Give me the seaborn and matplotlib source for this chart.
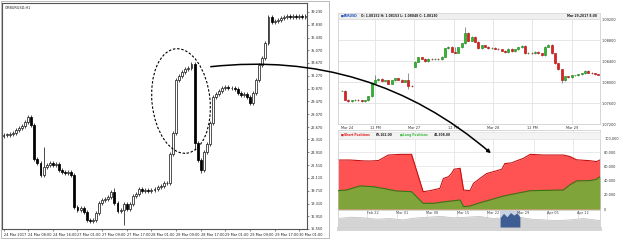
import numpy as np
import pandas as pd
import matplotlib
matplotlib.use("Agg")
import matplotlib.pyplot as plt
import seaborn as sns
from matplotlib.patches import Ellipse, FancyArrowPatch, Rectangle

# ---------------- data: left H1 chart ----------------
cmb_title = "CMBURUSD,H1"
cmb_open_first = 25.70
cmb_close = [25.80, 25.80, 25.87, 25.98, 26.35, 26.53, 26.78, 27.26, 27.73, 26.89,
             23.15, 22.71, 21.44, 22.35, 22.53, 22.71, 22.53, 22.64, 21.98, 21.80,
             21.62, 21.80, 21.44, 17.98, 17.61, 17.80, 17.43, 16.52, 16.45, 16.52,
             17.25, 18.34, 18.71, 18.78, 19.07, 19.62, 18.34, 17.54, 17.61, 18.27,
             17.69, 18.27, 19.14, 19.36, 19.87, 19.72, 19.80, 19.72, 19.80, 19.94,
             20.09, 20.23, 20.53, 20.60, 23.73, 25.98, 31.81, 32.24, 32.72, 32.97,
             33.08, 33.55, 24.89, 23.07, 21.98, 23.98, 24.82, 27.08, 29.99, 30.28,
             30.64, 30.90, 31.01, 30.90, 30.97, 30.79, 30.35, 30.17, 30.24, 29.99,
             29.33, 30.35, 31.81, 33.44, 34.17, 35.81, 38.72, 38.17, 38.25, 38.36,
             38.54, 38.72, 38.83, 38.72, 38.79, 38.72, 38.79, 38.72, 38.79]
cmb_high_override = {13: 24.53, 36: 19.98, 62: 33.80, 86: 38.95, 56: 32.05, 8: 27.95}
cmb_low_override = {39: 15.98, 62: 24.16, 64: 21.62, 80: 29.05, 28: 16.15, 12: 21.20}
cmb_yticks = [39.23, 37.83, 36.43, 35.07, 33.67, 32.27, 30.87, 29.47, 28.07,
              26.67, 25.31, 23.91, 22.51, 21.11, 19.71, 18.31, 16.91, 15.55]
cmb_xtick_idx = [0, 8, 16, 24, 32, 40, 48, 56, 64, 72, 80, 88, 96]
cmb_xtick_labels = ["24 Mar 2017", "24 Mar 08:00", "24 Mar 16:00", "27 Mar 01:00",
                    "27 Mar 09:00", "27 Mar 17:00", "28 Mar 01:00", "28 Mar 09:00",
                    "28 Mar 17:00", "29 Mar 01:00", "29 Mar 09:00", "29 Mar 17:00",
                    "30 Mar 01:00"]

# ---------------- data: EURUSD chart ----------------
eur_open_first = 1.07837
eur_close = [1.07837, 1.07671, 1.07646, 1.07658, 1.07671, 1.07658, 1.07646, 1.07658,
             1.07735, 1.07990, 1.08041, 1.08066, 1.08028, 1.08041, 1.07977, 1.08041,
             1.08079, 1.08053, 1.08009, 1.08041, 1.07939, 1.07926, 1.08391, 1.08474,
             1.08448, 1.08397, 1.08448, 1.08436, 1.08448, 1.08436, 1.08487, 1.08646,
             1.08678, 1.08582, 1.08563, 1.08665, 1.08741, 1.08945, 1.08792, 1.08869,
             1.08773, 1.08646, 1.08703, 1.08678, 1.08646, 1.08652, 1.08639, 1.08627,
             1.08601, 1.08576, 1.08639, 1.08588, 1.08627, 1.08665, 1.08690, 1.08550,
             1.08563, 1.08550, 1.08582, 1.08550, 1.08518, 1.08678, 1.08710, 1.08550,
             1.08359, 1.08244, 1.08041, 1.08117, 1.08092, 1.08130, 1.08136, 1.08155,
             1.08168, 1.08219, 1.08181, 1.08168, 1.08155, 1.08143]
eur_open_override = {22: 1.08295}
eur_high_override = {37: 1.09060, 10: 1.08136, 20: 1.08168, 34: 1.08680, 66: 1.08060}
eur_low_override = {66: 1.07990, 20: 1.07880}
eur_yticks = [1.092, 1.088, 1.084, 1.080, 1.076, 1.072]
eur_ytick_labels = ["1.09200", "1.08800", "1.08400", "1.08000", "1.07600", "1.07200"]
eur_xtick_pos = [1.6, 10.0, 21.8, 33.6, 45.4, 57.2, 69.0]
eur_xtick_labels = ["Mar 24", "12 PM", "Mar 27", "12 PM", "Mar 28", "12 PM", "Mar 29"]
eur_symbol = "EURUSD"
eur_header_left = "O: 1.08152 H: 1.08153 L: 1.08048 C: 1.08130"
eur_header_right = "Mar 29,2017 8:00"

# ---------------- data: positions chart (days since Feb 14) ----------------
short_day = [0, 2.8, 5.9, 7.4, 9.4, 11.7, 14.4, 17.1, 19.8, 21.4, 23.7, 24.5, 25.7, 26.4,
             27.0, 28.4, 29.2, 30.7, 31.5, 33.0, 34.6, 36.1, 38.1, 38.8, 40.4, 41.6, 43.1,
             44.7, 47.8, 52.4, 53.9, 55.5, 58.6, 60.1, 60.9]
short_vals = [69000, 69000, 67800, 67600, 68200, 76000, 76900, 77000, 24400, 25800,
              29000, 43000, 45500, 50000, 56000, 57300, 26800, 25800, 36000, 43000,
              50000, 52500, 56000, 64000, 65000, 68000, 71300, 77000, 76000, 76000,
              74000, 69300, 68000, 66800, 69000]
long_day = [0, 2.0, 5.1, 8.2, 10.5, 13.6, 17.1, 19.8, 22.2, 24.5, 28.4, 29.2, 30.7, 33.0,
            35.3, 38.5, 41.6, 44.7, 52.4, 53.9, 55.5, 58.6, 60.1, 60.9]
long_vals = [25800, 26800, 32500, 31400, 29000, 25400, 24400, 8000, 8000, 10000, 12700,
             3300, 4200, 8900, 12700, 18300, 22100, 25800, 26800, 34000, 39600, 40000,
             41800, 45500]
pos_yticks = [100000, 80000, 60000, 40000, 20000, 0]
pos_ytick_labels = ["100,000", "80,000", "60,000", "40,000", "20,000", "0"]
pos_grid_day = [8.6, 17.9, 27.0, 36.0, 45.6, 54.7]
short_label, short_value = "Short Positions", "69,162.00"
long_label, long_value = "Long Positions", "43,308.00"

# navigator
nav_day = [0, 3, 6, 9, 12, 15, 18, 21, 24, 27, 30, 33, 36, 39, 42, 45, 48, 51, 54, 57, 60.9]
nav_vals = [0.50, 0.58, 0.54, 0.46, 0.50, 0.42, 0.53, 0.58, 0.62, 0.54, 0.58, 0.62,
            0.50, 0.55, 0.58, 0.46, 0.42, 0.38, 0.42, 0.50, 0.38]
nav_sel_day = [37.7, 38.5, 39.3, 40.1, 40.9, 41.6, 42.3]
nav_sel_vals = [0.55, 0.80, 0.60, 0.85, 0.70, 0.82, 0.60]
nav_tick_day = [8, 15, 22, 29, 36, 43, 50, 57]
nav_tick_labels = ["Feb 22", "Mar 01", "Mar 08", "Mar 15", "Mar 22", "Mar 29", "Apr 05", "Apr 12"]

# ---------------- figure ----------------
sns.set_theme(style="white")
plt.rcParams["font.family"] = ["DejaVu Sans"]

W, H = 625, 240
fig = plt.figure(figsize=(W / 100, H / 100), dpi=100)
fig.patch.set_facecolor("white")
FS = 2.5
FSL = 2.2


def add_ax(x0, y0, x1, y1):
    return fig.add_axes([x0 / W, 1 - y1 / H, (x1 - x0) / W, (y1 - y0) / H])


def P(x, y):
    return (x / 100.0, (H - y) / 100.0)


def px_rect(x0, y0, x1, y1, **kw):
    r = Rectangle(P(x0, y1), (x1 - x0) / 100, (y1 - y0) / 100,
                  transform=fig.dpi_scale_trans, **kw)
    fig.add_artist(r)
    return r


def px_text(x, y, s, **kw):
    return fig.text(x / W, 1 - y / H, s, **kw)


def draw_candles(ax, opens, closes, highs, lows, width, up_fc, up_ec, dn_fc, dn_ec,
                 wick_c, lw, min_h):
    x = np.arange(len(closes))
    o = np.asarray(opens, float)
    c = np.asarray(closes, float)
    up = c >= o
    bottom = np.minimum(o, c)
    height = np.maximum(np.abs(c - o), min_h)
    ax.vlines(x, lows, highs, color=wick_c, lw=lw * 0.9, zorder=2)
    ax.bar(x[up], height[up], bottom=bottom[up], width=width, color=up_fc,
           edgecolor=up_ec, linewidth=lw, zorder=3)
    ax.bar(x[~up], height[~up], bottom=bottom[~up], width=width, color=dn_fc,
           edgecolor=dn_ec, linewidth=lw, zorder=3)


def build_ohlc(first_open, closes, open_ovr, high_ovr, low_ovr, wick):
    c = np.asarray(closes, float)
    o = np.concatenate([[first_open], c[:-1]])
    for k, v in open_ovr.items():
        o[k] = v
    hi = np.maximum(o, c) + wick
    lo = np.minimum(o, c) - wick
    for k, v in high_ovr.items():
        hi[k] = v
    for k, v in low_ovr.items():
        lo[k] = v
    return o, c, hi, lo


# outer frame of left screenshot
px_rect(0.5, 0.5, 329, 238, fill=False, ec="#b0b0b0", lw=0.6)

# ---------- left chart ----------
axL = add_ax(2, 3, 307, 229)
o, c, hi, lo = build_ohlc(cmb_open_first, cmb_close, {}, cmb_high_override,
                          cmb_low_override, 0.22)
draw_candles(axL, o, c, hi, lo, 0.62, "white", "#222222", "black", "black",
             "black", 0.55, 0.07)
axL.set_xlim(-0.5, 98.5)
axL.set_ylim(15.54, 40.21)
axL.yaxis.tick_right()
axL.set_yticks(cmb_yticks)
axL.set_yticklabels([f"{v:.3f}" for v in cmb_yticks], fontsize=FS, color="#222")
axL.set_xticks(cmb_xtick_idx)
axL.set_xticklabels(cmb_xtick_labels, fontsize=FS, color="#222", ha="left")
axL.tick_params(axis="both", length=1.5, width=0.4, color="#333", pad=1.2,
                bottom=True, right=True)
for s in axL.spines.values():
    s.set_color("#555555")
    s.set_linewidth(0.8)
axL.text(0.008, 0.985, cmb_title, transform=axL.transAxes, fontsize=FS,
         va="top", ha="left", color="#222")

# ---------- EURUSD chart ----------
axE = add_ax(338, 13, 600, 124.3)
o, c, hi, lo = build_ohlc(eur_open_first, eur_close, eur_open_override,
                          eur_high_override, eur_low_override, 0.00012)
draw_candles(axE, o, c, hi, lo, 0.62, "#2db92d", "#1e8a1e", "#e0201a", "#b01010",
             "#444444", 0.45, 0.00003)
axE.set_xlim(-1.1, 77.5)
axE.set_ylim(1.07200, 1.0932)
for v in eur_yticks:
    axE.axhline(v, color="#e2e2e2", lw=0.6, zorder=0)
for v in eur_xtick_pos[1:]:
    axE.axvline(v, color="#e2e2e2", lw=0.6, zorder=0)
axE.yaxis.tick_right()
axE.set_yticks(eur_yticks)
axE.set_yticklabels(eur_ytick_labels, fontsize=FS, color="#333")
axE.set_xticks(eur_xtick_pos)
axE.set_xticklabels(eur_xtick_labels, fontsize=FS, color="#333")
axE.tick_params(axis="both", length=0, pad=1.2)
for s in axE.spines.values():
    s.set_color("#d0d0d0")
    s.set_linewidth(0.6)
# header strip
px_rect(338, 13, 600, 19, fc="#efefef", ec="#d8d8d8", lw=0.4, zorder=5)
px_text(340.5, 16, "\u25a0", fontsize=FSL, color="#1f4fbf", va="center", zorder=6)
px_text(344, 16, eur_symbol, fontsize=FSL, color="#1f4fbf", va="center",
        fontweight="bold", zorder=6)
px_text(361, 16, eur_header_left, fontsize=FSL, color="#222", va="center",
        fontweight="bold", zorder=6)
px_text(597, 16, eur_header_right, fontsize=FSL, color="#222", va="center",
        ha="right", fontweight="bold", zorder=6)

# ---------- positions chart ----------
axP = add_ax(338, 130, 600, 210)
for v in pos_yticks:
    axP.axhline(v, color="#e6e6e6", lw=0.6, zorder=0)
for v in pos_grid_day:
    axP.axvline(v, color="#e6e6e6", lw=0.6, zorder=0)
axP.fill_between(short_day, short_vals, 0, color="#ff5252", lw=0, zorder=1)
sns.lineplot(x=short_day, y=short_vals, ax=axP, color="#c81010", lw=0.8,
             estimator=None, sort=False, zorder=2)
axP.fill_between(long_day, long_vals, 0, color="#7fa53a", lw=0, zorder=3)
sns.lineplot(x=long_day, y=long_vals, ax=axP, color="#2f7a12", lw=0.8,
             estimator=None, sort=False, zorder=4)
axP.set_xlim(0, 60.93)
axP.set_ylim(-1400, 111268)
axP.yaxis.tick_right()
axP.set_yticks(pos_yticks)
axP.set_yticklabels(pos_ytick_labels, fontsize=FS, color="#333")
axP.set_xticks([])
axP.set_xlabel("")
axP.set_ylabel("")
axP.tick_params(axis="both", length=0, pad=3)
for s in axP.spines.values():
    s.set_color("#d0d0d0")
    s.set_linewidth(0.6)
# legend strip
px_rect(338, 131.5, 600, 139, fc="#f3f3f3", ec="#dddddd", lw=0.4, zorder=5)
px_text(340.5, 135.3, "\u25a0", fontsize=FSL, color="#e01818", va="center", zorder=6)
px_text(344.5, 135.3, short_label, fontsize=FSL, color="#e01818", va="center",
        fontweight="bold", zorder=6)
px_text(376, 135.3, short_value, fontsize=FSL, color="#222", va="center",
        fontweight="bold", zorder=6)
px_text(399.5, 135.3, "\u25a0", fontsize=FSL, color="#3cb83c", va="center", zorder=6)
px_text(403.5, 135.3, long_label, fontsize=FSL, color="#3cb83c", va="center",
        fontweight="bold", zorder=6)
px_text(434, 135.3, long_value, fontsize=FSL, color="#222", va="center",
        fontweight="bold", zorder=6)

# ---------- navigator ----------
axN = add_ax(338, 210, 600, 227)
axN.fill_between(nav_day, nav_vals, 0, color="#d4d4d4", lw=0)
sns.lineplot(x=nav_day, y=nav_vals, ax=axN, color="#bcbcbc", lw=0.5,
             estimator=None, sort=False)
axN.axvspan(nav_sel_day[0], nav_sel_day[-1], color="#c9d2e3", lw=0, zorder=2)
axN.fill_between(nav_sel_day, nav_sel_vals, 0, color="#3d5d93", lw=0, zorder=3)
axN.set_xlim(0, 60.93)
axN.set_ylim(0, 1)
axN.set_xticks([])
axN.set_yticks([])
axN.set_xlabel("")
axN.set_ylabel("")
for d, lab in zip(nav_tick_day, nav_tick_labels):
    axN.axvline(d - 1.3, ymin=0.55, ymax=1, color="#cfcfcf", lw=0.4)
    axN.text(d, 0.82, lab, fontsize=FS, color="#444", ha="center", va="center")
for s in axN.spines.values():
    s.set_color("#d0d0d0")
    s.set_linewidth(0.6)

# card shadow
px_rect(337, 227, 602, 231, fc="#c4c4c4", ec="none", alpha=0.7, zorder=0)

# ---------- annotations ----------
ell = Ellipse(P(181, 101), 0.58, 1.05, angle=6, transform=fig.dpi_scale_trans,
              fill=False, ec="black", lw=0.8, ls=(0, (2.2, 1.6)), zorder=10)
fig.add_artist(ell)
arr = FancyArrowPatch(P(208, 67), P(493, 155), connectionstyle="arc3,rad=-0.22",
                      arrowstyle="-|>", mutation_scale=5, lw=1.1, color="black",
                      transform=fig.dpi_scale_trans, zorder=10)
fig.add_artist(arr)

fig.savefig("out.png", dpi=100)
